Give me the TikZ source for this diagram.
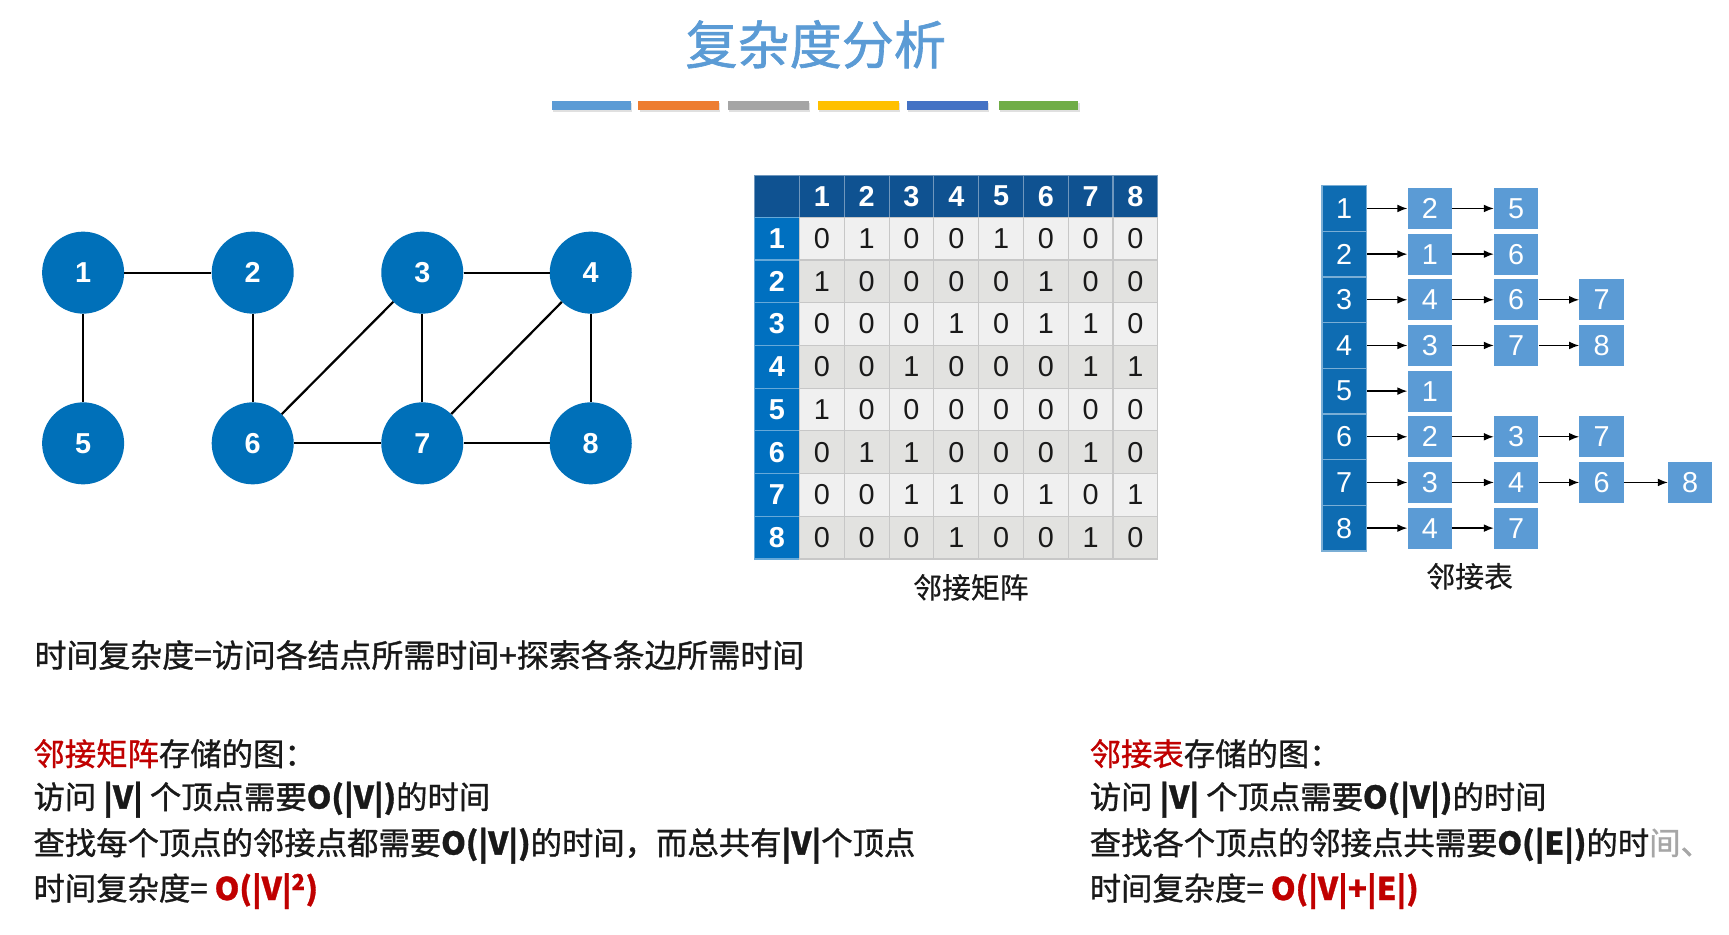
\documentclass[tikz,border=0pt]{standalone}
\usepackage{fontspec}
\setmainfont{Liberation Sans}
\newfontfamily\cjk[FakeBold=1.0]{Noto Sans CJK SC}
\newfontfamily\cjkreg[FakeBold=0.5]{Noto Sans CJK SC}
\newfontfamily\cjktitle[FakeBold=1.2]{Noto Sans CJK SC}
\usetikzlibrary{arrows.meta}
\definecolor{titleblue}{RGB}{91,155,213}
\definecolor{barblue}{RGB}{91,155,213}
\definecolor{barorange}{RGB}{237,125,49}
\definecolor{bargray}{RGB}{165,165,165}
\definecolor{baryellow}{RGB}{255,192,0}
\definecolor{bardblue}{RGB}{68,114,196}
\definecolor{bargreen}{RGB}{112,173,71}
\definecolor{gblue}{RGB}{0,112,185}
\definecolor{mhead}{RGB}{15,82,145}
\definecolor{mleft}{RGB}{0,112,192}
\definecolor{rowa}{RGB}{240,240,240}
\definecolor{rowb}{RGB}{226,226,224}
\definecolor{lhead}{RGB}{14,108,178}
\definecolor{litem}{RGB}{91,155,213}
\definecolor{myred}{RGB}{192,0,0}
\definecolor{ink}{RGB}{25,25,25}
\newcommand\lat[1]{{\bfseries #1}}
\tikzset{
  gnode/.style={circle, fill=gblue, minimum size=74pt, inner sep=0pt, text=white,
    font=\fontsize{26}{30}\selectfont\bfseries},
  gedge/.style={draw=black, line width=2pt},
  mcell/.style={rectangle, minimum width=40.4pt, minimum height=38.55pt, inner sep=0pt,
    draw=black!22, line width=1pt, text=ink, font=\fontsize{26}{30}\selectfont},
  hcell/.style={rectangle, minimum width=40.4pt, minimum height=38pt, inner sep=0pt,
    fill=mhead, draw=mhead!60!white, line width=1pt, text=white,
    font=\fontsize{26}{30}\selectfont\bfseries},
  lcell/.style={rectangle, minimum width=40.9pt, minimum height=38.55pt, inner sep=0pt,
    fill=mleft, draw=mleft!60!white, line width=1pt, text=white,
    font=\fontsize{26}{30}\selectfont\bfseries},
  lheadbox/.style={rectangle, minimum width=40pt, minimum height=41.2pt, inner sep=0pt,
    fill=lhead, draw=lhead!55!white, line width=1pt, text=white,
    font=\fontsize{26}{30}\selectfont},
  litembox/.style={rectangle, minimum width=40pt, minimum height=37pt, inner sep=0pt,
    fill=litem, text=white, font=\fontsize{26}{30}\selectfont},
  larrow/.style={draw=black, line width=1.2pt, -{Latex[length=9pt,width=7pt]}},
  captext/.style={inner sep=0pt, text=ink, font=\cjkreg\fontsize{26}{30}\selectfont},
  bodytext/.style={anchor=west, inner sep=0pt, text=ink, font=\cjk\fontsize{28.3}{34}\selectfont},
}
\begin{document}
\begin{tikzpicture}[x=1pt,y=-1pt]
\useasboundingbox (0,0) rectangle (1560,843);
\fill[white] (0,0) rectangle (1560,843);

% title
\node[inner sep=0pt, text=titleblue, font=\cjktitle\fontsize{47}{52}\selectfont] (title) at (736,40) {复杂度分析};
% colour bars
\foreach \a/\b/\col in {498/569/barblue,576/649/barorange,657/730/bargray,738/811/baryellow,818/891/bardblue,901/973/bargreen}{
  \fill[black!12] (\a+1,93) rectangle (\b+1,101);
  \fill[\col] (\a,91) rectangle (\b,99);
}

% graph
\foreach \n/\x/\y in {1/75/246,2/228/246,3/381/246,4/533/246,5/75/400,6/228/400,7/381/400,8/533/400}
  \node[gnode] (g\n) at (\x,\y) {\n};
\foreach \a/\b in {1/2,1/5,2/6,3/4,3/6,3/7,4/7,4/8,6/7,7/8}
  \draw[gedge] (g\a) -- (g\b);

% adjacency matrix
\node[hcell, minimum width=40.9pt] (m-0-0) at (701,177) {};
\foreach \c in {1,...,8}
  \node[hcell] (m-0-\c) at ({721.4+(\c-0.5)*40.4},177) {\c};
\foreach \r/\fc/\row in {1/rowa/{0,1,0,0,1,0,0,0},2/rowb/{1,0,0,0,0,1,0,0},3/rowa/{0,0,0,1,0,1,1,0},4/rowb/{0,0,1,0,0,0,1,1},5/rowa/{1,0,0,0,0,0,0,0},6/rowb/{0,1,1,0,0,0,1,0},7/rowa/{0,0,1,1,0,1,0,1},8/rowb/{0,0,0,1,0,0,1,0}}{
  \node[lcell] (m-\r-0) at (701,{196+(\r-0.5)*38.55}) {\r};
  \foreach \v [count=\c] in \row
    \node[mcell, fill=\fc] (m-\r-\c) at ({721.4+(\c-0.5)*40.4},{196+(\r-0.5)*38.55}) {\v};
}
\node[captext] (capm) at (876,530) {邻接矩阵};

% adjacency list
\foreach \r in {1,...,8}
  \node[lheadbox] (h\r) at (1212.8,{167.5+(\r-0.5)*41.2}) {\r};
\foreach \r/\lst in {1/{2,5},2/{1,6},3/{4,6,7},4/{3,7,8},5/{1},6/{2,3,7},7/{3,4,6,8},8/{4,7}}{
  \foreach \v [count=\c] in \lst {
    \pgfmathsetmacro\cx{{1290,1368,1445,1525}[\c-1]}
    \pgfmathtruncatemacro\prev{\c-1}
    \node[litembox] (l-\r-\c) at (\cx,{167.5+(\r-0.5)*41.2}) {\v};
    \ifnum\c=1
      \draw[larrow] (h\r) -- (l-\r-\c);
    \else
      \draw[larrow] (l-\r-\prev) -- (l-\r-\c);
    \fi
  }
}
\node[captext] (capl) at (1326,520) {邻接表};

% texts
\node[bodytext, font=\cjk\fontsize{28.8}{34}\selectfont] (t0) at (31,591) {时间复杂度=访问各结点所需时间+探索各条边所需时间};

\node[bodytext] (a1) at (30,680) {\textcolor{myred}{邻接矩阵}存储的图：};
\node[bodytext] (a2) at (30,721.5) {访问 \lat{|V|} 个顶点需要\lat{O(|V|)}的时间};
\node[bodytext] (a3) at (30,763) {查找每个顶点的邻接点都需要\lat{O(|V|)}的时间，而总共有\lat{|V|}个顶点};
\node[bodytext] (a4) at (30,804) {时间复杂度= \textcolor{myred}{\lat{O(|V|\textsuperscript{2})}}};

\node[bodytext] (b1) at (983,680) {\textcolor{myred}{邻接表}存储的图：};
\node[bodytext] (b2) at (983,721.5) {访问 \lat{|V|} 个顶点需要\lat{O(|V|)}的时间};
\node[bodytext] (b3) at (983,763) {查找各个顶点的邻接点共需要\lat{O(|E|)}的时\textcolor{black!35}{间、}};
\node[bodytext] (b4) at (983,804) {时间复杂度= \textcolor{myred}{\lat{O(|V|+|E|)}}};
\end{tikzpicture}
\end{document}
